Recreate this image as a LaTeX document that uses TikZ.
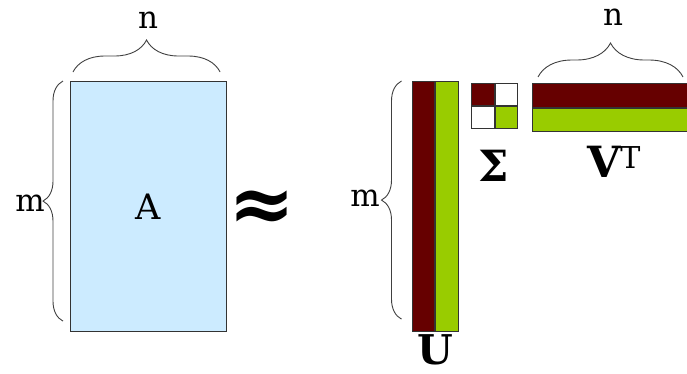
\documentclass[tikz,border=0pt]{standalone}
\usepackage{fontspec}
\setmainfont{DejaVu Serif}
\usetikzlibrary{positioning, decorations.pathreplacing}
\definecolor{cA}{HTML}{CCEBFF}
\definecolor{cRed}{HTML}{660000}
\definecolor{cGrn}{HTML}{99CC00}
\definecolor{cEdge}{HTML}{333333}

\begin{document}
\begin{tikzpicture}[x=1pt, y=-1pt,
    mat/.style={draw=cEdge, line width=1.1pt, inner sep=0pt, anchor=north west},
    col/.style={mat, minimum width=22.6pt, minimum height=250pt},
    row/.style={mat, minimum width=160pt, minimum height=23.5pt},
    cell/.style={mat, minimum width=22.5pt, minimum height=22pt},
    brc/.style={decorate, draw=black!75, line width=0.9pt},
    dim/.style={inner sep=0pt, font=\fontsize{31}{32}\selectfont},
    big/.style={inner sep=0pt, font=\fontsize{43}{44}\selectfont\bfseries},
]
\useasboundingbox (0,0) rectangle (687,373);

% === LEFT: A with its sizes ===
\node[mat, fill=cA, minimum width=156pt, minimum height=250pt] (A) at (70,81) {};
\node[font=\fontsize{35}{36}\selectfont] (lA) at (A.center) {A};

\draw[brc, decoration={brace, amplitude=32pt}]
    ([xshift=3pt,yshift=9pt]A.north west) -- ([xshift=-7pt,yshift=9pt]A.north east);
\node[dim] (nA) at (148,20) {n};

\draw[brc, decoration={brace, amplitude=20pt}]
    ([xshift=-7pt,yshift=11pt]A.south west) -- ([xshift=-7pt]A.north west);
\node[dim] (mA) at (30,203) {m};

\node[font=\fontsize{80}{80}\selectfont\bfseries] (approx) at (262,211) {≈};

% === RIGHT: U, Sigma, V^T ===
\node[col, fill=cRed] (u1) at (411.5,81) {};
\node[col, fill=cGrn, right=0pt of u1] (u2) {};
\node[big, font=\fontsize{41}{42}\selectfont\bfseries] (lU) at (435,350) {U};

\draw[brc, decoration={brace, amplitude=20pt}]
    ([xshift=-10pt,yshift=13pt]u1.south west) -- ([xshift=-10pt]u1.north west);
\node[dim] (mU) at (365,198) {m};

\node[cell, fill=cRed] (s11) at (471,83) {};
\node[cell, fill=white, right=0pt of s11] (s12) {};
\node[cell, fill=white, below=0pt of s11] (s21) {};
\node[cell, fill=cGrn, right=0pt of s21] (s22) {};
\node[big] (lS) at (494,166) {Σ};

\node[row, fill=cRed] (v1) at (532,83) {};
\node[row, fill=cGrn, below=0pt of v1] (v2) {};
\node[big] (lV) at (614,162) {V\textsuperscript{\mdseries T}};

\draw[brc, decoration={brace, amplitude=34pt}]
    ([xshift=6pt,yshift=6pt]v1.north west) -- ++(145pt,0);
\node[dim] (nV) at (613,17) {n};

\end{tikzpicture}
\end{document}
